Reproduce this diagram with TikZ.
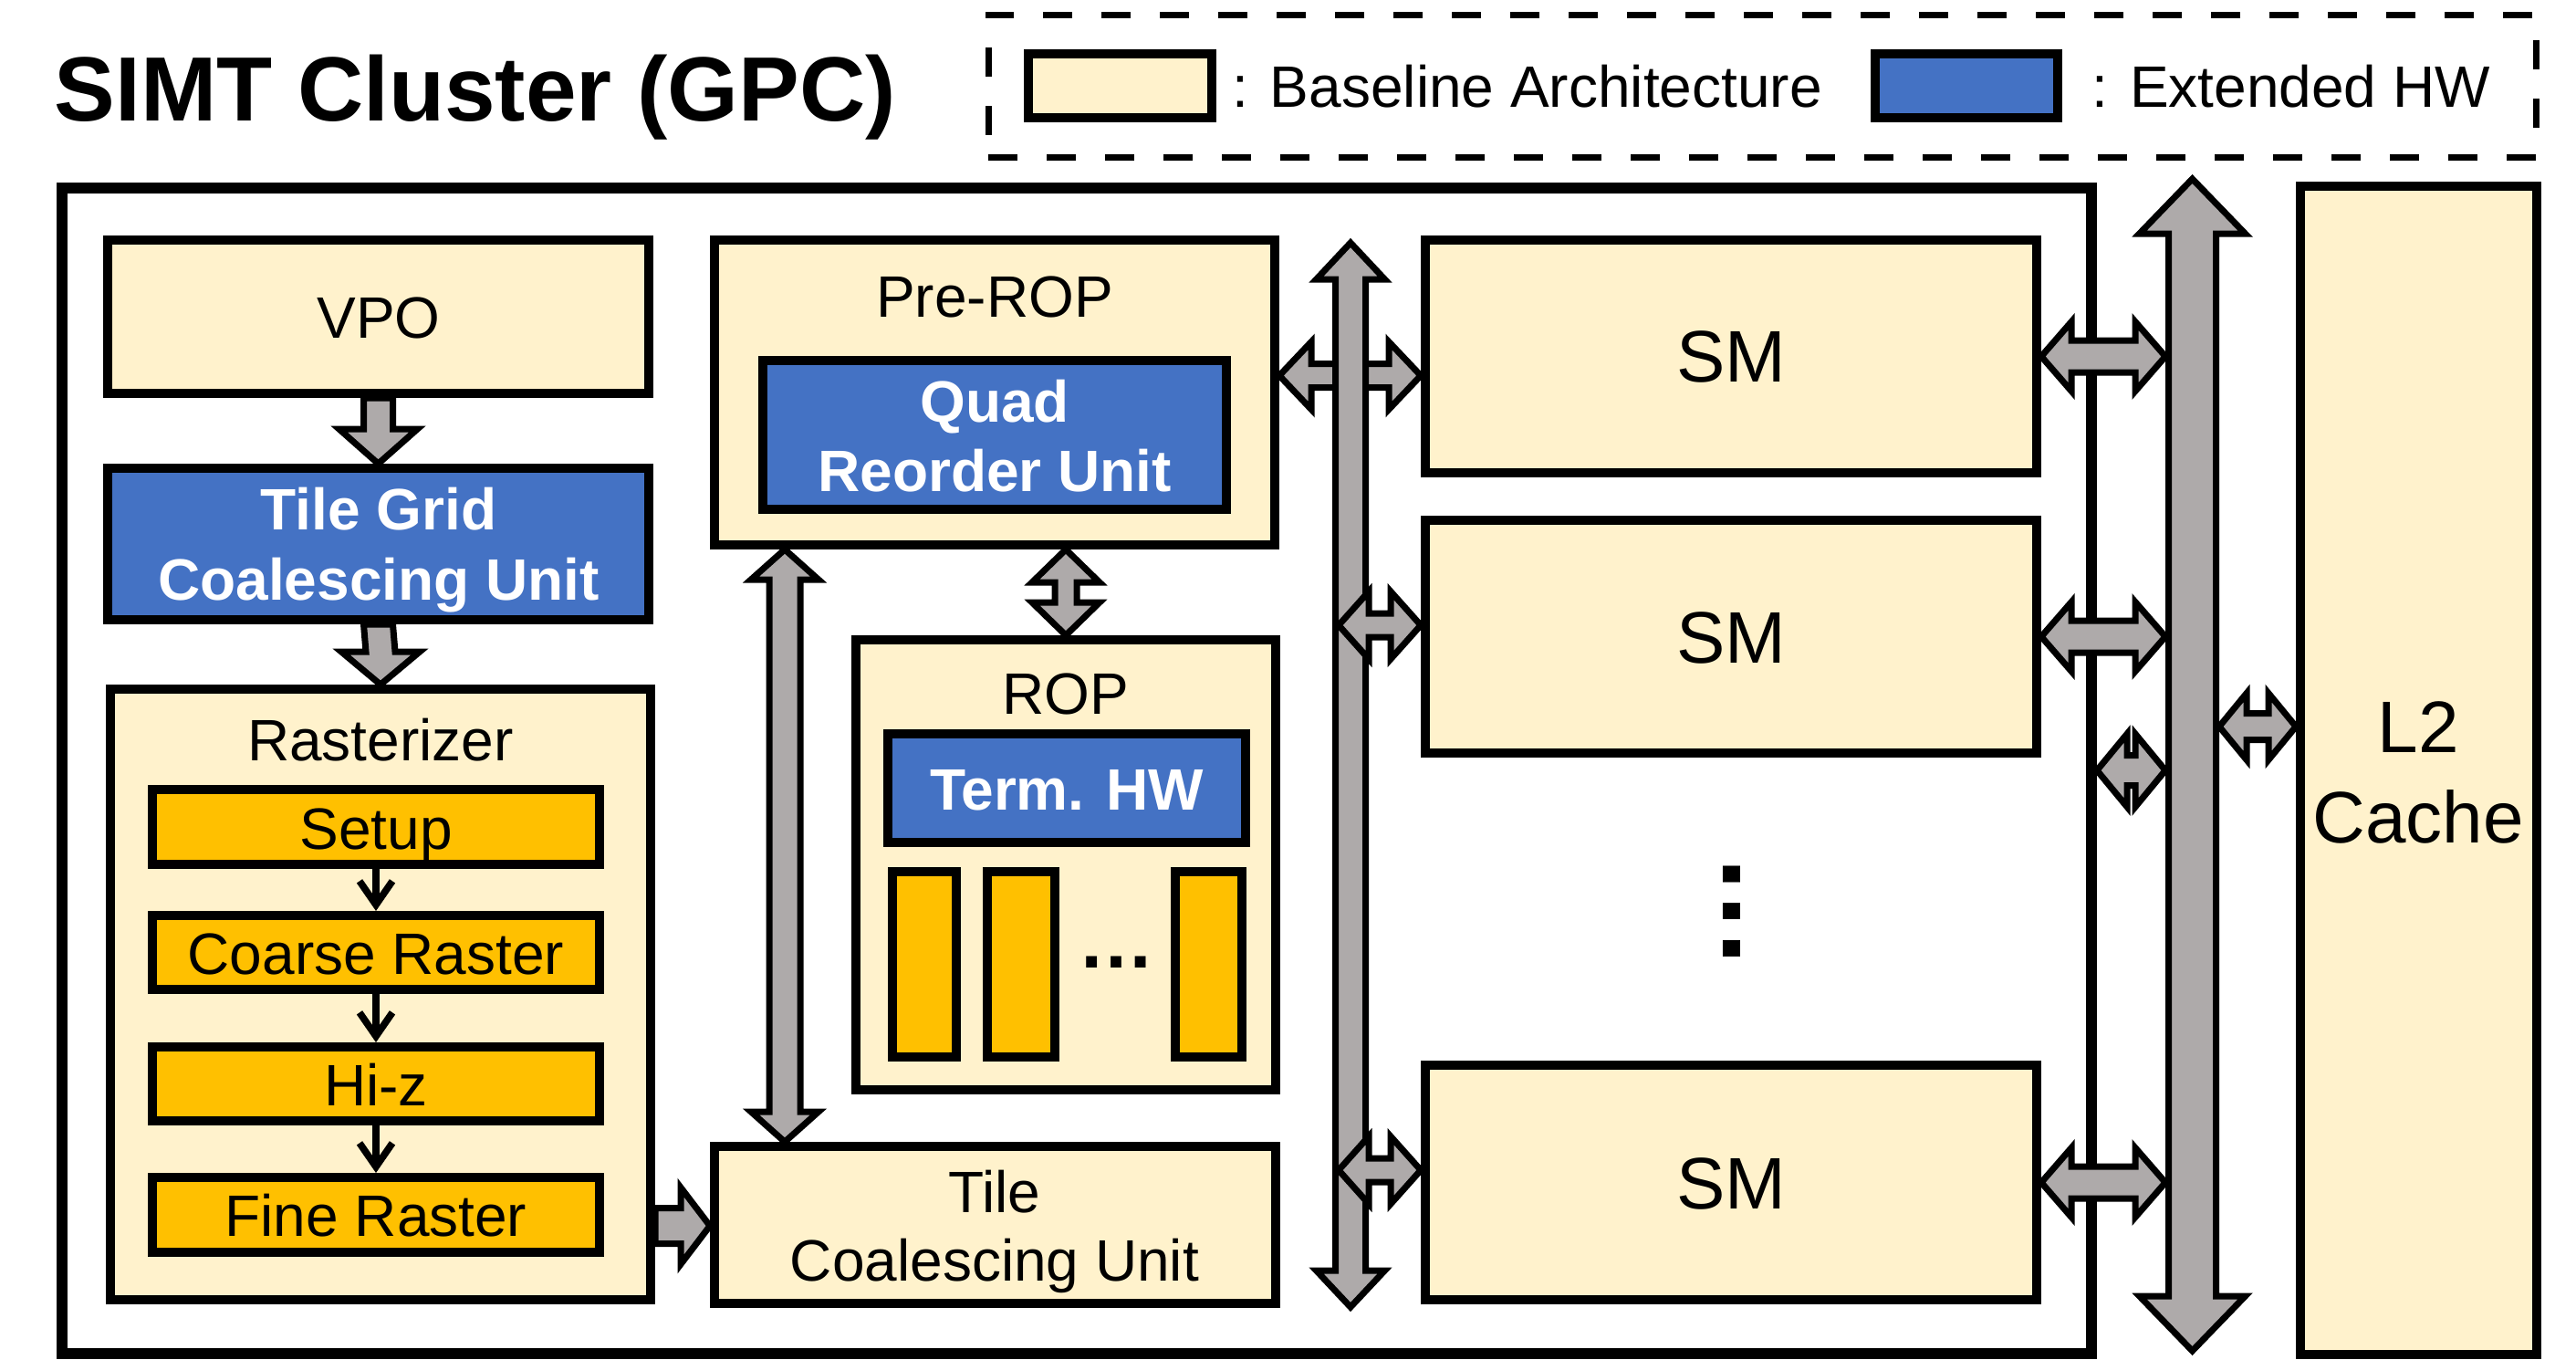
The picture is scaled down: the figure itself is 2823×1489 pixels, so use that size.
\documentclass[tikz,border=0pt]{standalone}
\usepackage{fontspec}
\setmainfont{Liberation Sans}
\usepackage{xcolor}
\usepackage{tikz}
\usetikzlibrary{calc,fit,arrows.meta}
\definecolor{basecol}{HTML}{FFF2CC}
\definecolor{extcol}{HTML}{4472C4}
\definecolor{rastcol}{HTML}{FFC000}
\definecolor{arrcol}{HTML}{AEAAAA}
\tikzset{every picture/.style={line width=0.75pt}}
\tikzset{
  basebox/.style={draw, line width=2.5pt, fill=basecol, inner sep=0pt},
  extbox/.style={basebox, fill=extcol},
  rastbox/.style={basebox, fill=rastcol},
  gpcbox/.style={draw, line width=3pt, inner sep=0pt},
  keyframe/.style={draw, line width=1.75pt, dash pattern=on 8pt off 8pt, inner sep=0pt},
  fatarr/.style={draw, fill=arrcol, line width=1.75pt, line join=miter},
  thinarr/.style={line width=1.9pt, -{Straight Barb[length=6.5pt,width=9pt]}},
  lbl/.style={inner sep=0pt, anchor=base, font=\fontsize{16}{19}\selectfont},
  extlbl/.style={lbl, text=white, font=\fontsize{16}{19}\selectfont\bfseries},
  biglbl/.style={lbl, font=\fontsize{20}{24}\selectfont}
}
% fat arrows: start, end, head length, head half width, shaft half width
\newcommand{\dblh}[5]{\draw[fatarr] (#1) -- ($(#1)+(#3,-#4)$) -- ($(#1)+(#3,-#5)$) -- ($(#2)+(-#3,-#5)$) -- ($(#2)+(-#3,-#4)$) -- (#2) -- ($(#2)+(-#3,#4)$) -- ($(#2)+(-#3,#5)$) -- ($(#1)+(#3,#5)$) -- ($(#1)+(#3,#4)$) -- cycle;}
\newcommand{\dblv}[5]{\draw[fatarr] (#1) -- ($(#1)+(#4,#3)$) -- ($(#1)+(#5,#3)$) -- ($(#2)+(#5,-#3)$) -- ($(#2)+(#4,-#3)$) -- (#2) -- ($(#2)+(-#4,-#3)$) -- ($(#2)+(-#5,-#3)$) -- ($(#1)+(-#5,#3)$) -- ($(#1)+(-#4,#3)$) -- cycle;}
\newcommand{\sglv}[5]{\draw[fatarr] ($(#1)+(-#5,0)$) -- ($(#2)+(-#5,-#3)$) -- ($(#2)+(-#4,-#3)$) -- (#2) -- ($(#2)+(#4,-#3)$) -- ($(#2)+(#5,-#3)$) -- ($(#1)+(#5,0)$) -- cycle;}
\newcommand{\sglh}[5]{\draw[fatarr] ($(#1)+(0,-#5)$) -- ($(#2)+(-#3,-#5)$) -- ($(#2)+(-#3,-#4)$) -- (#2) -- ($(#2)+(-#3,#4)$) -- ($(#2)+(-#3,#5)$) -- ($(#1)+(0,#5)$) -- cycle;}

\begin{document}
\begin{tikzpicture}[x=0.25pt,y=0.25pt,yscale=-1,xscale=1]
    \fill[white] (0,0) rectangle (2823,1489);
    \useasboundingbox (0,0) rectangle (2823,1489);
    \node[anchor=base west, inner sep=0pt, font=\fontsize{25}{30}\selectfont\bfseries] (title) at (58,132) {SIMT Cluster (GPC)};
    \node[keyframe, fit={(1083,16)(2779,172)}] (legend) {};
    \node[basebox, fit={(1127,59)(1328,129)}] (keybase) {};
    \node[extbox, fit={(2055,59)(2255,129)}] (keyext) {};
    \node[lbl, anchor=base west] (keybasetxt) at (1349,117) {: Baseline Architecture};
    \node[lbl, anchor=base west] (keyexttxt) at (2291,117) {: Extended HW};
    \node[gpcbox, fit={(68,206)(2292,1483)}] (gpc) {};

    \node[basebox, fit={(118,263)(711,431)}] (vpo) {};
    \node[extbox, fit={(118,513)(711,679)}] (tgcu) {};
    \node[basebox, fit={(121,755)(713,1424)}] (raster) {};
    \node[rastbox, fit={(167,865)(657,947)}] (setup) {};
    \node[rastbox, fit={(167,1003)(657,1084)}] (coarse) {};
    \node[rastbox, fit={(167,1147)(657,1228)}] (hiz) {};
    \node[rastbox, fit={(167,1290)(657,1372)}] (fine) {};
    \draw[thinarr] (setup.south) -- (coarse.north);
    \draw[thinarr] (coarse.south) -- (hiz.north);
    \draw[thinarr] (hiz.south) -- (fine.north);
    \sglv{vpo.south}{tgcu.north}{38}{43}{16}
    \sglv{tgcu.south}{raster.north}{36}{43}{16}

    \node[basebox, fit={(783,263)(1397,597)}] (prerop) {};
    \node[extbox, fit={(836,395)(1344,558)}] (quad) {};
    \node[basebox, fit={(938,701)(1398,1194)}] (rop) {};
    \node[extbox, fit={(973,804)(1365,923)}] (term) {};
    \node[rastbox, fit={(978,955)(1048,1158)}] (slotA) {};
    \node[rastbox, fit={(1082,955)(1156,1158)}] (slotB) {};
    \node[rastbox, fit={(1288,955)(1361,1158)}] (slotC) {};
    \node[basebox, fit={(783,1256)(1398,1428)}] (tile) {};
    \coordinate (colA) at (860,0);
    \coordinate (rowT) at (0,1343);
    \dblv{prerop.south -| colA}{tile.north -| colA}{33}{37}{17}
    \dblv{prerop.south -| rop.north}{rop.north}{36}{37}{12}
    \sglh{raster.east |- rowT}{tile.west |- rowT}{32}{42}{19.5}

    \node[basebox, fit={(1562,263)(2232,518)}] (smA) {};
    \node[basebox, fit={(1562,570)(2232,825)}] (smB) {};
    \node[basebox, fit={(1562,1167)(2232,1424)}] (smC) {};
    \node[basebox, fit={(2521,204)(2780,1484)}] (ltwo) {};

    \coordinate (rowA) at (0,411.5);
    \coordinate (bustop) at (1480,266);
    \coordinate (busbot) at (1480,1432);
    \coordinate (tapB) at (1467,685);
    \coordinate (tapC) at (1467,1282);
    \dblh{prerop.east |- rowA}{smA.west |- rowA}{35}{37}{13}
    \dblv{bustop}{busbot}{40}{37.5}{16.5}
    \dblh{tapB}{smB.west |- tapB}{33}{37}{13}
    \dblh{tapC}{smC.west |- tapC}{33}{37}{13}

    \coordinate (bbtop) at (2402.5,196);
    \coordinate (bbbot) at (2402.5,1480);
    \coordinate (bbleft) at (2373,0);
    \coordinate (tapL) at (2432,796);
    \coordinate (rowG) at (0,844);
    \dblv{bbtop}{bbbot}{60}{58}{26}
    \dblh{smA.east}{smA.east -| bbleft}{33}{38}{17.5}
    \dblh{smB.east}{smB.east -| bbleft}{33}{38}{17.5}
    \dblh{smC.east}{smC.east -| bbleft}{33}{38}{17.5}
    \dblh{tapL}{ltwo.west |- tapL}{30}{36.5}{14.5}
    \dblh{gpc.east |- rowG}{bbleft |- rowG}{33}{40}{16.5}

    \node[lbl] (vpotxt) at (415,370) {VPO};
    \node[extlbl] (tgcutxtA) at (415,580) {Tile Grid};
    \node[extlbl] (tgcutxtB) at (415,657) {Coalescing Unit};
    \node[lbl] (rastertxt) at (417,833) {Rasterizer};
    \node[lbl] (setuptxt) at (412,930) {Setup};
    \node[lbl] (coarsetxt) at (412,1067) {Coarse Raster};
    \node[lbl] (hiztxt) at (412,1211) {Hi-z};
    \node[lbl] (finetxt) at (412,1354) {Fine Raster};
    \node[lbl] (preroptxt) at (1090,347) {Pre-ROP};
    \node[extlbl] (quadtxtA) at (1090,462) {Quad};
    \node[extlbl] (quadtxtB) at (1090,538) {Reorder Unit};
    \node[lbl] (roptxt) at (1168,782) {ROP};
    \node[extlbl] (termtxt) at (1169,887) {Term. HW};
    \node[inner sep=0pt, font=\fontsize{21}{24}\selectfont\bfseries] (slotdots) at (1223,1054) {\ldots};
    \node[lbl] (tiletxtA) at (1090,1328) {Tile};
    \node[lbl] (tiletxtB) at (1090,1403) {Coalescing Unit};
    \node[biglbl] (smAtxt) at (1897,418) {SM};
    \node[biglbl] (smBtxt) at (1897,726) {SM};
    \node[biglbl] (smCtxt) at (1897,1324) {SM};
    \node[inner sep=0pt, rotate=90, font=\fontsize{32}{36}\selectfont\bfseries] (smdots) at (1898,998) {\ldots};
    \node[biglbl] (ltwotxtA) at (2650,824) {L2};
    \node[biglbl] (ltwotxtB) at (2650,923) {Cache};
\end{tikzpicture}
\end{document}
